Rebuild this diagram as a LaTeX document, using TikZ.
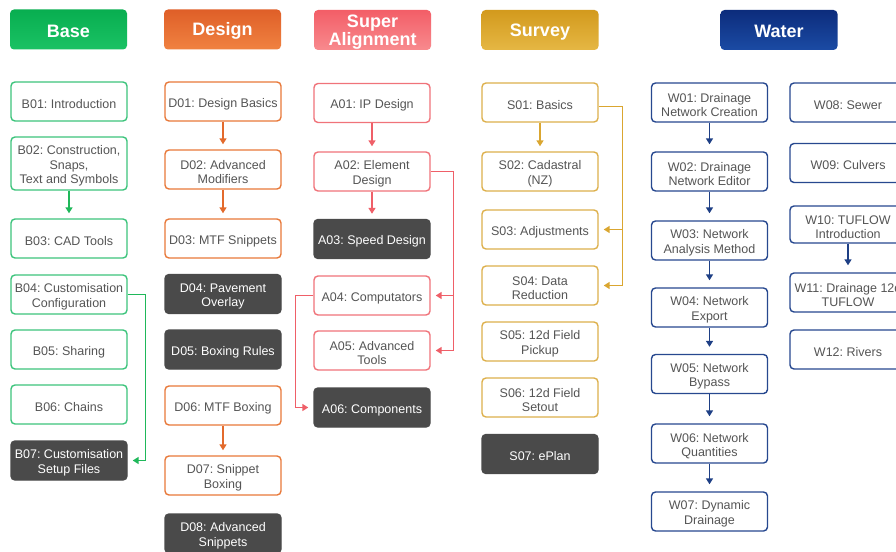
\documentclass[tikz,border=0pt]{standalone}
\usepackage{fontspec}
\setmainfont{Liberation Sans}
\usetikzlibrary{arrows.meta}
\definecolor{gB}{HTML}{3CC47C}
\definecolor{gBa}{HTML}{1FB85A}
\definecolor{gBt}{HTML}{08AE50}
\definecolor{gBb}{HTML}{1AC264}
\definecolor{oD}{HTML}{E8793A}
\definecolor{oDa}{HTML}{E36A2C}
\definecolor{oDt}{HTML}{DF5F28}
\definecolor{oDb}{HTML}{F08241}
\definecolor{pA}{HTML}{F0737A}
\definecolor{pAa}{HTML}{EF5F68}
\definecolor{pAt}{HTML}{F35E67}
\definecolor{pAb}{HTML}{F88A8E}
\definecolor{yS}{HTML}{DDB04C}
\definecolor{ySa}{HTML}{DAA630}
\definecolor{ySt}{HTML}{D39A1D}
\definecolor{ySb}{HTML}{E5B744}
\definecolor{bW}{HTML}{27488F}
\definecolor{bWa}{HTML}{1E3F85}
\definecolor{bWt}{HTML}{0C2C7C}
\definecolor{bWb}{HTML}{1B4BA4}
\definecolor{darkg}{HTML}{4A4A4A}
\definecolor{txtgray}{HTML}{555555}
\newcommand\bstr{\rule{0pt}{14pt}}
\newcommand\hstr{\rule{0pt}{16pt}}
\frenchspacing
\begin{document}
\begin{tikzpicture}[x=1pt,y=-1pt,
  box/.style={rounded corners=4pt, minimum width=116pt, minimum height=39pt, inner sep=1pt,
    align=center, font=\fontsize{12.5}{14.5}\selectfont, text=txtgray, line width=1.4pt, fill=white},
  bbox/.style={box, draw=gB},
  dbox/.style={box, draw=oD},
  abox/.style={box, draw=pA},
  sbox/.style={box, draw=yS},
  wbox/.style={box, draw=bW},
  dark/.style={box, fill=darkg, draw=darkg, text=white},
  hdr/.style={rounded corners=4pt, minimum width=117pt, minimum height=40pt, inner sep=0pt,
    align=center, font=\fontsize{18}{18}\selectfont\bfseries, text=white},
  conn/.style={line width=1.5pt, -{Triangle[width=7pt,length=6pt]}, shorten >=5pt},
  cB/.style={conn, draw=gBa},
  cD/.style={conn, draw=oDa},
  cA/.style={conn, draw=pAa},
  cS/.style={conn, draw=ySa},
  cW/.style={conn, draw=bWa, shorten >=7pt}
]
\useasboundingbox (0,0) rectangle (896,551);
\clip (0,0) rectangle (896,551);
\fill[white] (0,0) rectangle (896,551);

% headers
\node[hdr, top color=gBt, bottom color=gBb] (hB) at (68.5,29.5) {\hstr Base};
\node[hdr, top color=oDt, bottom color=oDb] (hD) at (222.5,29.5) {\hstr Design};
\node[hdr, top color=pAt, bottom color=pAb] (hA) at (372.5,30) {\hstr Super\\Alignment};
\node[hdr, top color=ySt, bottom color=ySb] (hS) at (540,30) {\hstr Survey};
\node[hdr, top color=bWt, bottom color=bWb] (hW) at (779,30) {\hstr Water};

% Base
\node[bbox] (B01) at (69,101.5) {\bstr B01: Introduction};
\node[bbox, minimum height=53pt] (B02) at (69,163.5) {\bstr B02: Construction,\\Snaps,\\Text and Symbols};
\node[bbox] (B03) at (69,238.5) {\bstr B03: CAD Tools};
\node[bbox] (B04) at (69,294.5) {\bstr B04: Customisation\\Configuration};
\node[bbox] (B05) at (69,349.5) {\bstr B05: Sharing};
\node[bbox] (B06) at (69,404.5) {\bstr B06: Chains};
\node[dark] (B07) at (69,460.5) {\bstr B07: Customisation\\Setup Files};

% Design
\node[dbox] (D01) at (223,101.5) {\bstr D01: Design Basics};
\node[dbox] (D02) at (223,169.5) {\bstr D02: Advanced\\Modifiers};
\node[dbox] (D03) at (223,238.5) {\bstr D03: MTF Snippets};
\node[dark] (D04) at (223,294) {\bstr D04: Pavement\\Overlay};
\node[dark] (D05) at (223,349.5) {\bstr D05: Boxing Rules};
\node[dbox] (D06) at (223,405.5) {\bstr D06: MTF Boxing};
\node[dbox] (D07) at (223,475.5) {\bstr D07: Snippet\\Boxing};
\node[dark] (D08) at (223,533.5) {\bstr D08: Advanced\\Snippets};

% Super Alignment
\node[abox] (A01) at (372,103) {\bstr A01: IP Design};
\node[abox] (A02) at (372,171.5) {\bstr A02: Element\\Design};
\node[dark] (A03) at (372,239) {\bstr A03: Speed Design};
\node[abox] (A04) at (372,295.5) {\bstr A04: Computators};
\node[abox] (A05) at (372,350.5) {\bstr A05: Advanced\\Tools};
\node[dark] (A06) at (372,407.5) {\bstr A06: Components};

% Survey
\node[sbox] (S01) at (540,102.5) {\bstr S01: Basics};
\node[sbox] (S02) at (540,171.5) {\bstr S02: Cadastral\\(NZ)};
\node[sbox] (S03) at (540,229.5) {\bstr S03: Adjustments};
\node[sbox] (S04) at (540,285.5) {\bstr S04: Data\\Reduction};
\node[sbox] (S05) at (540,341.5) {\bstr S05: 12d Field\\Pickup};
\node[sbox] (S06) at (540,397.5) {\bstr S06: 12d Field\\Setout};
\node[dark] (S07) at (540,454) {\bstr S07: ePlan};

% Water
\node[wbox] (W01) at (709.5,102.5) {\bstr W01: Drainage\\Network Creation};
\node[wbox] (W02) at (709.5,171.5) {\bstr W02: Drainage\\Network Editor};
\node[wbox] (W03) at (709.5,240.5) {\bstr W03: Network\\Analysis Method};
\node[wbox] (W04) at (709.5,307.5) {\bstr W04: Network\\Export};
\node[wbox] (W05) at (709.5,374) {\bstr W05: Network\\Bypass};
\node[wbox] (W06) at (709.5,443.5) {\bstr W06: Network\\Quantities};
\node[wbox] (W07) at (709.5,511.5) {\bstr W07: Dynamic\\Drainage};
\node[wbox] (W08) at (848,102.5) {\bstr W08: Sewer};
\node[wbox] (W09) at (848,163) {\bstr W09: Culvers};
\node[wbox, minimum height=37pt] (W10) at (848,224.5) {\bstr W10: TUFLOW\\Introduction};
\node[wbox] (W11) at (848,292.5) {\bstr W11: Drainage 12d\\TUFLOW};
\node[wbox] (W12) at (848,349.5) {\bstr W12: Rivers};

% connectors
\draw[cB] (B02) -- (B03);
\path (B04.east) ++(18,0) coordinate (b4r);
\draw[cB] (B04.east) -- (b4r) |- (B07.east);

\draw[cD] (D01) -- (D02);
\draw[cD] (D02) -- (D03);
\draw[cD] (D06) -- (D07);

\draw[cA] (A01) -- (A02);
\draw[cA] (A02) -- (A03);
\path (A02.east) ++(23,0) coordinate (a2r);
\draw[cA] (A02.east) -- (a2r) |- (A04.east);
\draw[cA] (a2r) |- (A05.east);
\path (A04.west) ++(-18,0) coordinate (a4l);
\draw[cA] (A04.west) -- (a4l) |- (A06.west);

\draw[cS] (S01) -- (S02);
\path ([yshift=-4pt]S01.east) coordinate (s1e) ++(24,0) coordinate (s1r);
\draw[cS] (s1e) -- (s1r) |- (S03.east);
\draw[cS] (s1r) |- (S04.east);

\draw[cW] (W01) -- (W02);
\draw[cW] (W02) -- (W03);
\draw[cW] (W03) -- (W04);
\draw[cW] (W04) -- (W05);
\draw[cW] (W05) -- (W06);
\draw[cW] (W06) -- (W07);
\draw[cW] (W10) -- (W11);
\end{tikzpicture}
\end{document}
